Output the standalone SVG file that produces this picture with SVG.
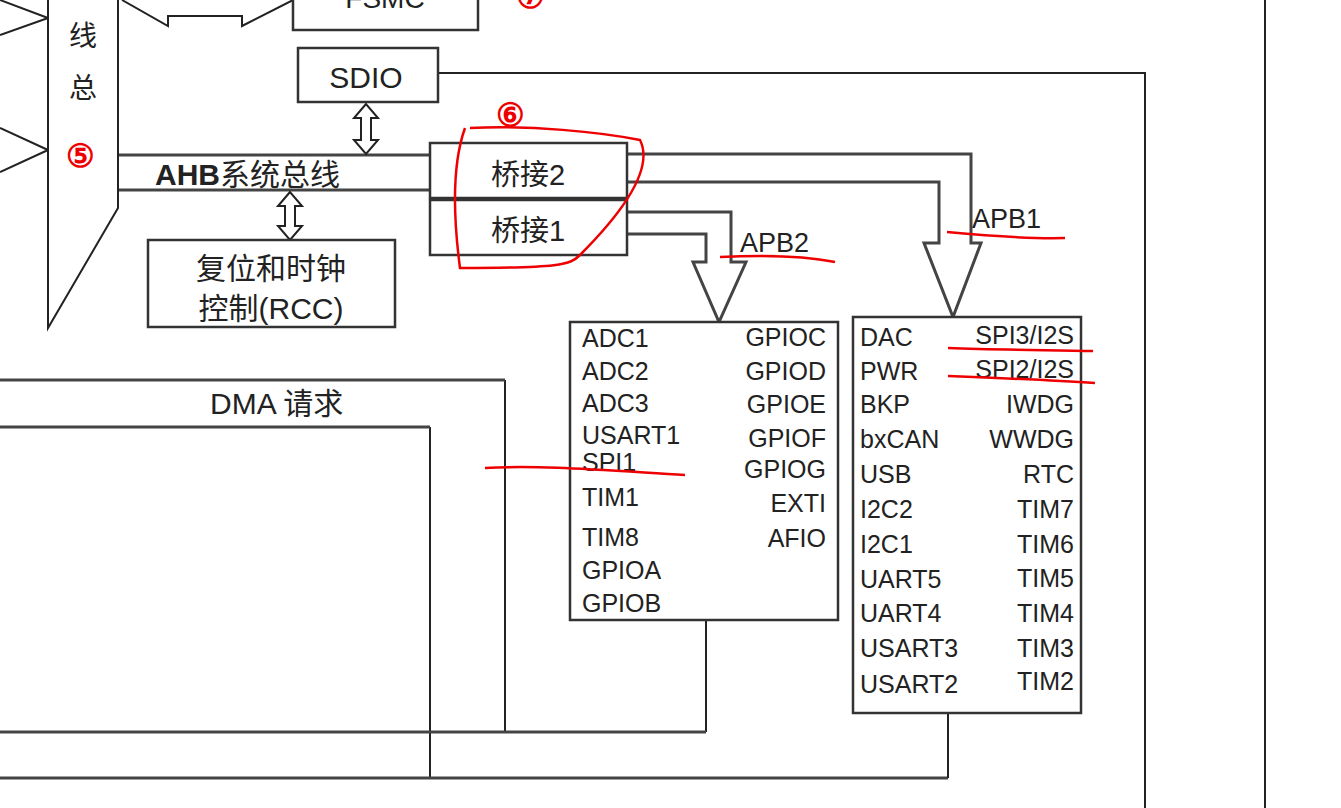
<svg xmlns="http://www.w3.org/2000/svg" width="1341" height="808" viewBox="0 0 1341 808">
<style>
.ln{fill:none;stroke:#222;stroke-width:2}
.bus{fill:none;stroke:#444;stroke-width:3}
.box{fill:#fff;stroke:#333;stroke-width:2.5}
.t{font-family:"Liberation Sans","Noto Sans CJK SC",sans-serif;fill:#222}
.s{font-size:25px}
.red{fill:none;stroke:#e00;stroke-width:2.5}
.rt{font-family:"Liberation Sans",sans-serif;font-size:32px;font-weight:bold;fill:#e00}
</style>
<rect width="1341" height="808" fill="#fff"/>
<g id="connectors">
<path class="ln" d="M0,0 L48,18 M0,35 L48,18 M0,128 L48,150 M0,172 L48,150"/>
<path class="ln" d="M122,0 L168,26 L168,16 L242,16 L242,26 L293,0"/>
<path class="ln" d="M438,73 H1145 V808"/>
<path class="ln" d="M1265,0 V808" stroke="#666"/>
<path class="bus" d="M118,155 H430 M118,190 H430"/>
<path class="ln" d="M366,104 l-12,14 h7 v22 h-7 l12,14 l12,-14 h-7 v-22 h7 z" fill="#fff"/>
<path class="ln" d="M290,192 l-12,14 h7 v20 h-7 l12,14 l12,-14 h-7 v-20 h7 z" fill="#fff"/>
<path class="bus" d="M627,154 H971 V243 H981 L953,317 L924,243 H939 V182 H627"/>
<path class="bus" d="M627,212 H731 V262 H746 L719,322 L693,262 H706 V234 H627"/>
<path class="ln" d="M706,620 V732"/>
<path class="ln" d="M505,380 V732"/>
<path class="bus" d="M0,380 H505"/>
<path class="ln" d="M430,427 V778"/>
<path class="bus" d="M0,427 H430"/>
<path class="bus" d="M0,778 H948"/>
<path class="ln" d="M948,713 V778"/>
<path class="bus" d="M0,732 H706"/>
</g>
<g id="bus">
<path class="ln" d="M48,0 V328 L118,208 V0" fill="#fff"/>
<text class="t" font-size="28" x="69" y="46">线</text>
<text class="t" font-size="28" x="69" y="98">总</text>
<text class="rt" x="66" y="167">⑤</text>
</g>
<g id="fsmc"><rect class="box" x="293" y="-10" width="185" height="40"/><text class="t" font-size="28" x="385" y="8" text-anchor="middle">FSMC</text></g>
<text class="rt" x="516" y="8">⑦</text>
<g id="sdio"><rect class="box" x="298" y="48" width="140" height="54"/><text class="t" font-size="30" x="366" y="88" text-anchor="middle">SDIO</text></g>
<text class="t" font-size="30" x="155" y="185" font-weight="bold">AHB<tspan font-weight="normal">系统总线</tspan></text>
<g id="rcc"><rect class="box" x="148" y="240" width="247" height="87" stroke-width="3.5" stroke="#111"/><text class="t" font-size="30" x="271" y="279" text-anchor="middle">复位和时钟</text><text class="t" font-size="30" x="271" y="319" text-anchor="middle">控制(RCC)</text></g>
<g id="bridge2"><rect class="box" x="430" y="143" width="197" height="55"/><text class="t" font-size="29" x="528" y="185" text-anchor="middle">桥接2</text></g>
<g id="bridge1"><rect class="box" x="430" y="200" width="197" height="55"/><text class="t" font-size="29" x="528" y="241" text-anchor="middle">桥接1</text></g>
<text class="t" font-size="27" x="972" y="228">APB1</text>
<text class="t" font-size="27" x="740" y="252">APB2</text>
<g id="apb2">
<rect class="box" x="570" y="322" width="268" height="298" stroke="#444" stroke-width="2"/>
<g class="t s">
<text x="582" y="347">ADC1</text><text x="582" y="380">ADC2</text><text x="582" y="412">ADC3</text><text x="582" y="444">USART1</text><text x="582" y="471">SPI1</text><text x="582" y="506">TIM1</text><text x="582" y="546">TIM8</text><text x="582" y="579">GPIOA</text><text x="582" y="612">GPIOB</text>
</g>
<g class="t s" text-anchor="end">
<text x="826" y="346">GPIOC</text><text x="826" y="380">GPIOD</text><text x="826" y="413">GPIOE</text><text x="826" y="447">GPIOF</text><text x="826" y="478">GPIOG</text><text x="826" y="512">EXTI</text><text x="826" y="547">AFIO</text>
</g>
</g>
<g id="apb1">
<rect class="box" x="853" y="317" width="228" height="396" stroke-width="3"/>
<g class="t s">
<text x="860" y="346">DAC</text><text x="860" y="380">PWR</text><text x="860" y="413">BKP</text><text x="860" y="448">bxCAN</text><text x="860" y="483">USB</text><text x="860" y="518">I2C2</text><text x="860" y="553">I2C1</text><text x="860" y="588">UART5</text><text x="860" y="622">UART4</text><text x="860" y="657">USART3</text><text x="860" y="693">USART2</text>
</g>
<g class="t s" text-anchor="end">
<text x="1074" y="344">SPI3/I2S</text><text x="1074" y="378">SPI2/I2S</text><text x="1074" y="413">IWDG</text><text x="1074" y="448">WWDG</text><text x="1074" y="483">RTC</text><text x="1074" y="518">TIM7</text><text x="1074" y="553">TIM6</text><text x="1074" y="587">TIM5</text><text x="1074" y="622">TIM4</text><text x="1074" y="657">TIM3</text><text x="1074" y="690">TIM2</text>
</g>
</g>
<g id="dma"><text class="t" font-size="30" x="210" y="414">DMA 请求</text></g>
<g id="annotations">
<text class="rt" x="496" y="126">⑥</text>
<path class="red" d="M470,128 C530,125 600,132 640,140 C655,170 620,215 580,255 C570,265 560,268 460,268 C455,230 450,170 465,128"/>
<path class="red" d="M947,232 C990,236 1030,239 1065,238"/>
<path class="red" d="M720,257 C760,255 800,255 835,262"/>
<path class="red" d="M485,468 C540,465 600,470 685,475"/>
<path class="red" d="M948,348 C1000,350 1050,350 1093,351"/>
<path class="red" d="M948,376 C1000,378 1050,380 1095,383"/>
</g>
</svg>
